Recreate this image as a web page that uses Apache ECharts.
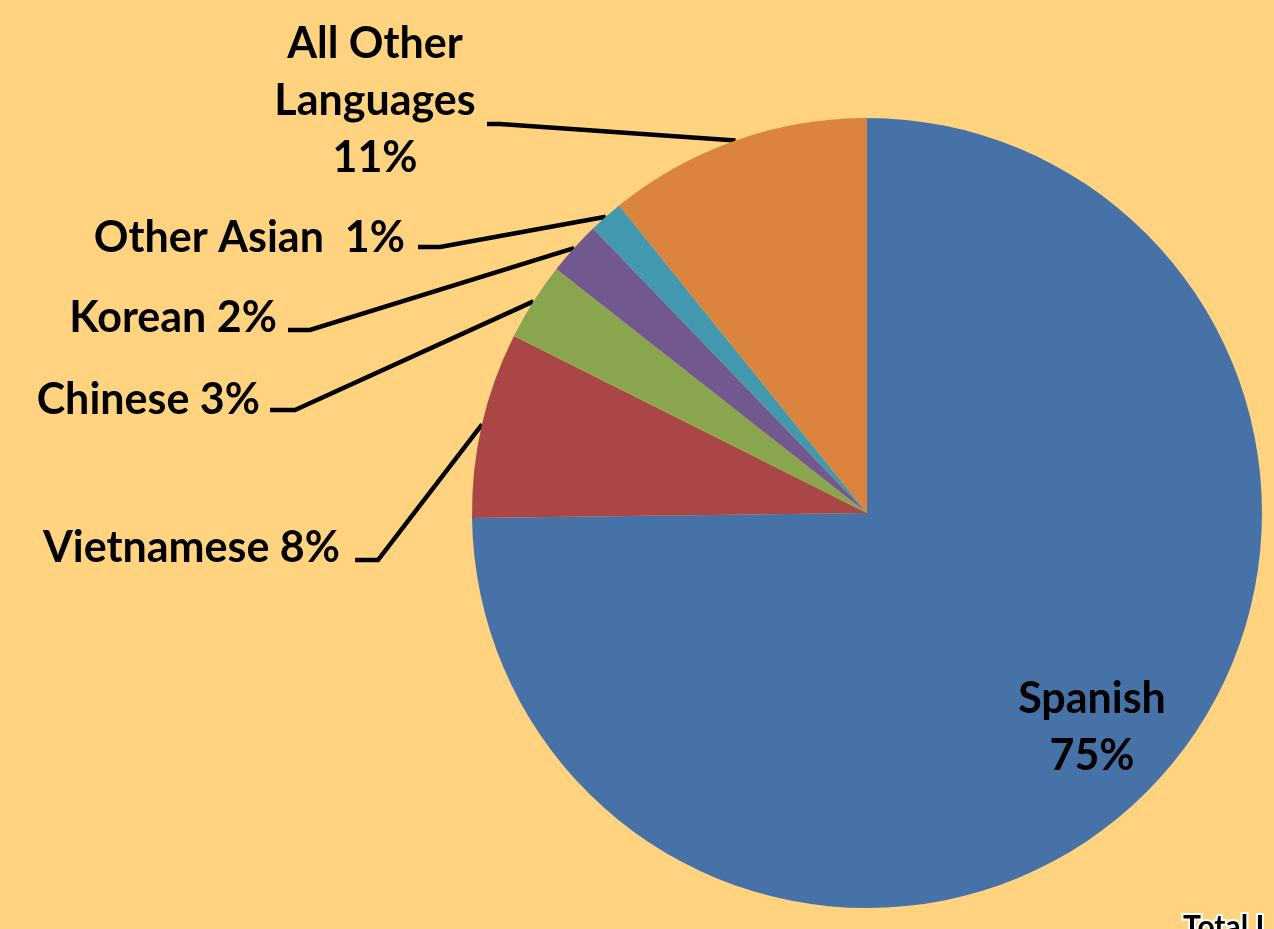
<!DOCTYPE html>
<html>
<head>
<meta charset="utf-8">
<script src="https://cdn.jsdelivr.net/npm/echarts@6/dist/echarts.min.js"></script>
<style>
html,body{margin:0;padding:0;background:#FFD37F;}
#c{width:1274px;height:929px;}
</style>
</head>
<body>
<div id="c"></div>
<script>
// ---- data ----
var categories = ['Spanish', 'Vietnamese', 'Chinese', 'Korean', 'Other Asian', 'All Other\nLanguages'];
var shares = [74.8, 7.6, 3.2, 2.2, 1.4, 10.8];
var colors = ['#4672A8', '#AA4643', '#89A54E', '#71588F', '#4198AF', '#DB843D'];

// ---- label layout (positions only) ----
var separators = ['\n', ' ', ' ', ' ', '  ', '\n'];
var labelSpots = [
  {x: 1092, y: 728, align: 'center'},
  {x: 340, y: 548, align: 'right', elbow: [378, 560], end: [355, 560]},
  {x: 260, y: 400, align: 'right', elbow: [295, 410], end: [270, 410]},
  {x: 277, y: 318, align: 'right', elbow: [310, 330], end: [288, 330]},
  {x: 405, y: 238, align: 'right', elbow: [440, 247], end: [418, 247]},
  {x: 375, y: 101, align: 'center', elbow: [500, 124], end: [487, 124]}
];

var chart = echarts.init(document.getElementById('c'), null, {renderer: 'canvas'});
var seriesData = categories.map(function (c, i) {
  var item = {name: c, value: shares[i], itemStyle: {color: colors[i]}};
  if (i === 0) {
    item.label = {position: 'inside'};
    item.labelLine = {show: false};
  }
  return item;
});

chart.setOption({
  backgroundColor: '#FFD37F',
  animation: false,
  series: [{
    type: 'pie',
    center: [867, 513],
    radius: 395,
    startAngle: 90,
    clockwise: true,
    avoidLabelOverlap: false,
    itemStyle: {borderWidth: 0},
    label: {
      show: true,
      position: 'outside',
      color: '#000',
      fontFamily: 'Lato',
      fontWeight: 'bold',
      fontSize: 43,
      lineHeight: 57,
      formatter: function (p) {
        return p.name + separators[p.dataIndex] + Math.round(p.percent) + '%';
      }
    },
    labelLine: {
      show: true,
      length: 20,
      length2: 20,
      lineStyle: {color: '#000', width: 4.5}
    },
    labelLayout: function (params) {
      var s = labelSpots[params.dataIndex];
      var out = {x: s.x, y: s.y, align: s.align, verticalAlign: 'middle'};
      if (s.elbow && params.labelLinePoints) {
        out.labelLinePoints = [params.labelLinePoints[0], s.elbow, s.end];
      }
      return out;
    },
    data: seriesData
  }],
  graphic: [{
    type: 'text',
    left: 1181,
    top: 910,
    style: {
      text: 'Total L',
      fill: '#000',
      stroke: '#fff',
      lineWidth: 4,
      font: 'bold 30px Lato'
    }
  }]
});
</script>
</body>
</html>
